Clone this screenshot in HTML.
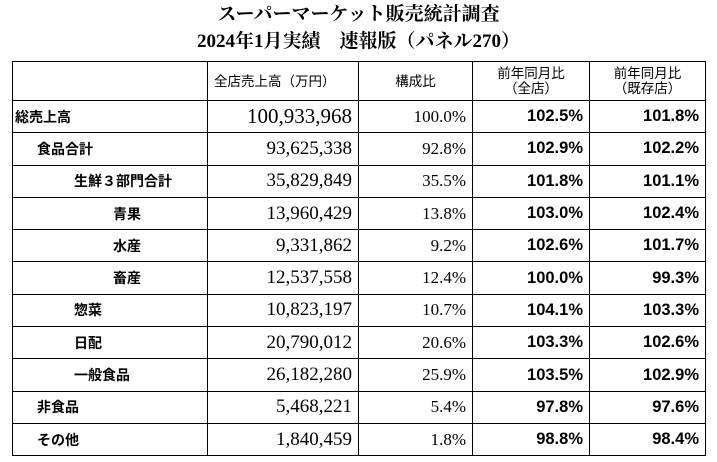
<!DOCTYPE html><html><head><meta charset="utf-8"><style>
body{margin:0;width:717px;height:462px;background:#fff;position:relative;overflow:hidden;font-family:"Liberation Serif","Noto Serif CJK SC",serif}
.t{position:absolute;left:0;width:717px;text-align:center;font-weight:bold;font-size:19px;font-family:"Liberation Serif","Noto Serif CJK SC",serif;line-height:24px}
table{position:absolute;left:12px;top:61px;border-collapse:collapse}
td{border:1.5px solid #000;height:31.3px;padding:0 6px;font-size:17px;white-space:nowrap}
td.l{font-family:"Liberation Sans","Noto Sans CJK JP",sans-serif;font-weight:bold;font-size:14px}
td.n{text-align:right;font-size:19px}
td.p{text-align:right;font-size:17px}
td.b{text-align:right;font-family:"Liberation Sans",sans-serif;font-weight:bold;font-size:16.5px}
tr.h td{height:38px;font-family:"Liberation Sans","Noto Sans CJK JP",sans-serif;font-size:13.5px;text-align:center;line-height:15px}
</style></head><body>
<div class="t" style="top:3px">スーパーマーケット販売統計調査</div>
<div class="t" style="top:30px">2024年1月実績　速報版（パネル270）</div>
<table>
<colgroup><col style="width:195px"><col style="width:151px"><col style="width:114px"><col style="width:117px"><col style="width:116px"></colgroup>
<tr class="h"><td></td><td style="text-align:left">全店売上高（万円）</td><td>構成比</td><td>前年同月比<br>（全店）</td><td>前年同月比<br>（既存店）</td></tr>
<tr><td class="l" style="padding-left:2px">総売上高</td><td class="n" style="font-size:21px">100,933,968</td><td class="p">100.0%</td><td class="b">102.5%</td><td class="b">101.8%</td></tr>
<tr><td class="l" style="padding-left:24px">食品合計</td><td class="n">93,625,338</td><td class="p">92.8%</td><td class="b">102.9%</td><td class="b">102.2%</td></tr>
<tr><td class="l" style="padding-left:61px">生鮮３部門合計</td><td class="n">35,829,849</td><td class="p">35.5%</td><td class="b">101.8%</td><td class="b">101.1%</td></tr>
<tr><td class="l" style="padding-left:100px">青果</td><td class="n">13,960,429</td><td class="p">13.8%</td><td class="b">103.0%</td><td class="b">102.4%</td></tr>
<tr><td class="l" style="padding-left:100px">水産</td><td class="n">9,331,862</td><td class="p">9.2%</td><td class="b">102.6%</td><td class="b">101.7%</td></tr>
<tr><td class="l" style="padding-left:100px">畜産</td><td class="n">12,537,558</td><td class="p">12.4%</td><td class="b">100.0%</td><td class="b">99.3%</td></tr>
<tr><td class="l" style="padding-left:61px">惣菜</td><td class="n">10,823,197</td><td class="p">10.7%</td><td class="b">104.1%</td><td class="b">103.3%</td></tr>
<tr><td class="l" style="padding-left:61px">日配</td><td class="n">20,790,012</td><td class="p">20.6%</td><td class="b">103.3%</td><td class="b">102.6%</td></tr>
<tr><td class="l" style="padding-left:61px">一般食品</td><td class="n">26,182,280</td><td class="p">25.9%</td><td class="b">103.5%</td><td class="b">102.9%</td></tr>
<tr><td class="l" style="padding-left:24px">非食品</td><td class="n">5,468,221</td><td class="p">5.4%</td><td class="b">97.8%</td><td class="b">97.6%</td></tr>
<tr><td class="l" style="padding-left:24px">その他</td><td class="n">1,840,459</td><td class="p">1.8%</td><td class="b">98.8%</td><td class="b">98.4%</td></tr>
</table>
</body></html>
